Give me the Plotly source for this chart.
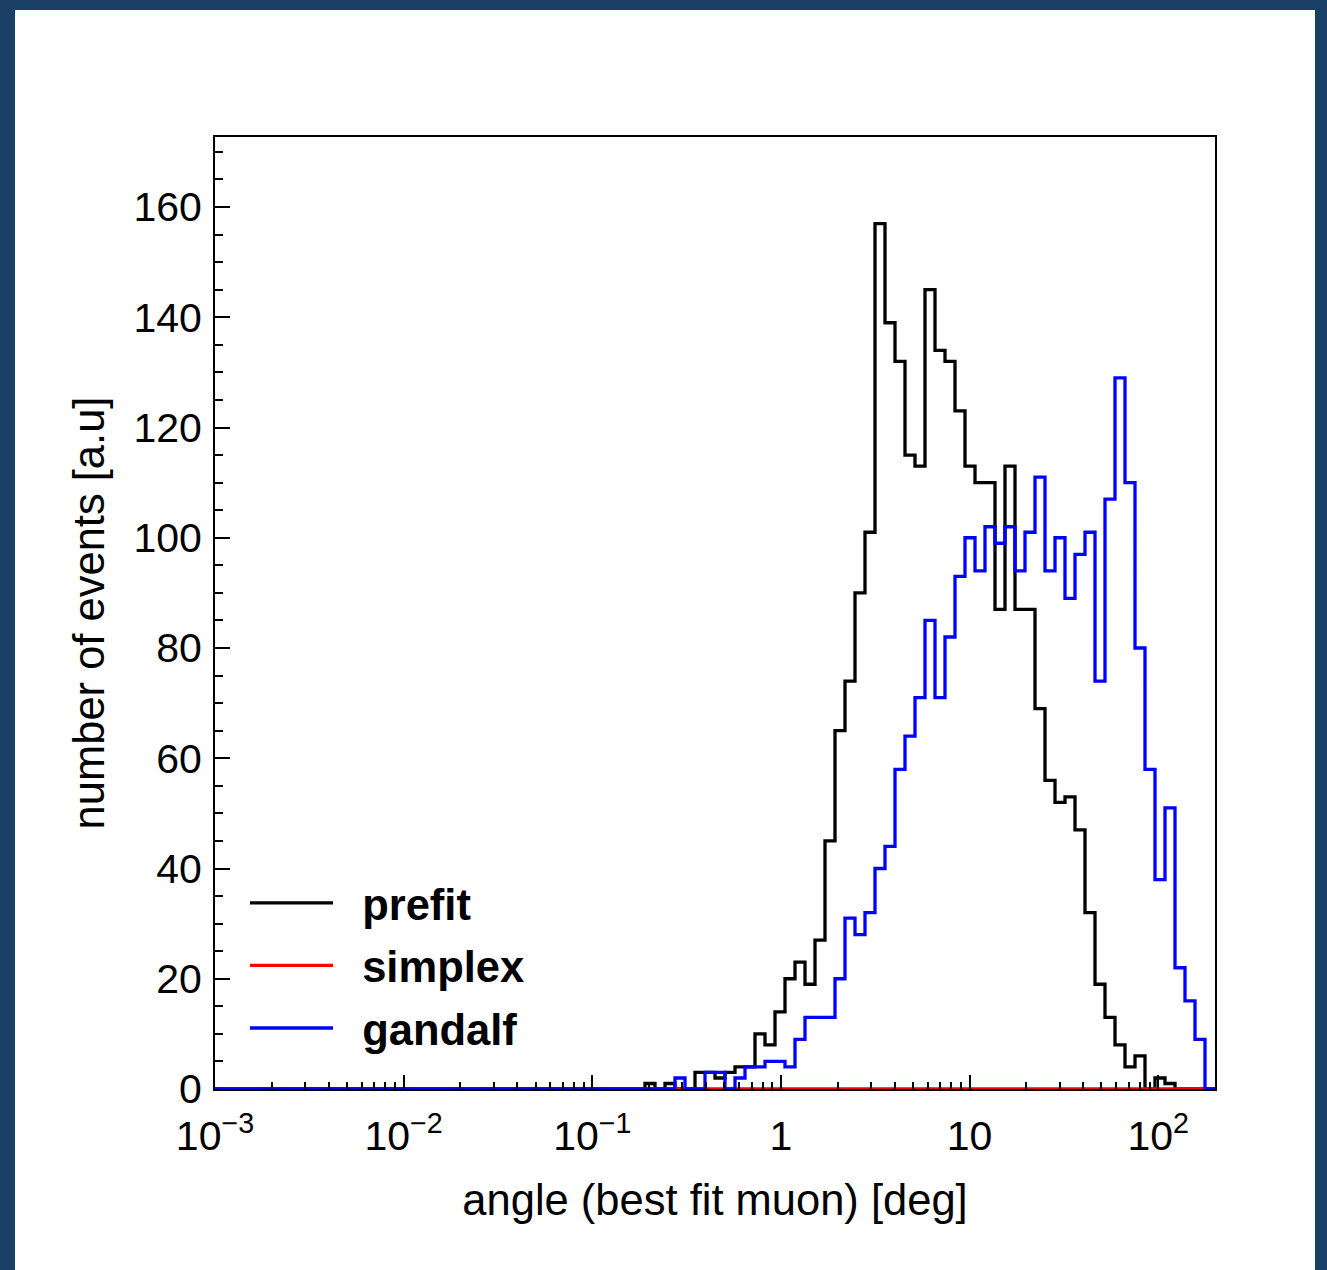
import numpy as np
import plotly.graph_objects as go

# ---- data (100 log-spaced bins from 1e-3 to 200 deg) ----
n_bins = 100
x_min, x_max = 1e-3, 200.0

prefit = [0]*43 + [1, 0, 1, 0, 0, 3, 3, 2, 3, 4, 4, 10, 8, 14, 20, 23, 19, 27, 45, 65,
                   74, 90, 101, 157, 139, 132, 115, 113, 145, 134, 132, 123, 113, 110, 110,
                   87, 113, 87, 87, 69, 56, 52, 53, 47, 32, 19, 13, 8, 4, 6, 0, 2, 1, 0, 0, 0, 0]
gandalf = [0]*46 + [2, 0, 0, 3, 3, 0, 2, 4, 4, 5, 5, 4, 9, 13, 13, 13, 20, 31, 28, 32, 40,
                    44, 58, 64, 71, 85, 71, 82, 93, 100, 94, 102, 99, 102, 94, 101, 111, 94,
                    100, 89, 97, 101, 74, 107, 129, 110, 80, 58, 38, 51, 22, 16, 9, 0]
simplex = [0]*n_bins

series_names = ["prefit", "simplex", "gandalf"]
series_colors = ["#000000", "#ff0000", "#0000ff"]

x_tickvals = [1e-3, 1e-2, 1e-1, 1, 10, 100]
x_ticktext = ["10<sup>\u22123</sup>", "10<sup>\u22122</sup>", "10<sup>\u22121</sup>", "1", "10", "10<sup>2</sup>"]

x_title = "angle (best fit muon) [deg]"
y_title = "number of events [a.u]"

# ---- build ----
edges = np.logspace(np.log10(x_min), np.log10(x_max), n_bins + 1)
FONT = "Liberation Sans, Arial, Helvetica, sans-serif"

fig = go.Figure()
for name, vals, col in zip(series_names, [prefit, simplex, gandalf], series_colors):
    y = list(vals) + [vals[-1]]
    fig.add_trace(go.Scatter(x=edges, y=y, mode="lines", line=dict(color=col, width=3.3, shape="hv"),
                             name="&nbsp;&nbsp;<b>%s</b>" % name, legendgroup=name, showlegend=True))

minor_vals = [m * 10.0**e for e in range(-3, 3) for m in range(2, 10) if m * 10.0**e < x_max]

fig.update_xaxes(type="log", range=[np.log10(x_min), np.log10(x_max)],
                 tickmode="array", tickvals=x_tickvals, ticktext=x_ticktext,
                 ticks="inside", ticklen=14, tickwidth=2, tickcolor="black",
                 minor=dict(tickmode="array", tickvals=minor_vals, ticks="inside", ticklen=7,
                            tickwidth=2, tickcolor="black", showgrid=False),
                 showline=True, mirror=True, linecolor="black", linewidth=2,
                 showgrid=False, zeroline=False, ticklabelstandoff=10,
                 tickfont=dict(size=41, family=FONT, color="black"),
                 title=dict(text=x_title, font=dict(size=43.5, family=FONT, color="black"), standoff=26),
                 automargin=False)
fig.update_yaxes(range=[0, 172.7], tick0=0, dtick=20,
                 ticks="inside", ticklen=15, tickwidth=2, tickcolor="black",
                 minor=dict(dtick=5, ticks="inside", ticklen=8, tickwidth=2, tickcolor="black", showgrid=False),
                 showline=True, mirror=True, linecolor="black", linewidth=2,
                 showgrid=False, zeroline=False, ticklabelstandoff=3,
                 tickfont=dict(size=41, family=FONT, color="black"),
                 title=dict(text=y_title, font=dict(size=43.5, family=FONT, color="black"), standoff=15),
                 automargin=False)

fig.add_shape(type="rect", xref="paper", yref="paper", x0=-0.2, x1=1.1, y0=-0.25, y1=1.1334,
              fillcolor="white", line=dict(width=0), layer="below")

fig.update_layout(width=1327, height=1270, autosize=False,
                  margin=dict(l=215, r=112, t=137, b=181, pad=0),
                  paper_bgcolor="#1a4066", plot_bgcolor="white",
                  font=dict(family=FONT, color="black"),
                  legend=dict(x=0.03, y=0.232, xanchor="left", yanchor="top",
                              bgcolor="rgba(0,0,0,0)", itemwidth=83, tracegroupgap=3,
                              font=dict(size=43.5, family=FONT, color="black")))

fig.write_html("out.html")
